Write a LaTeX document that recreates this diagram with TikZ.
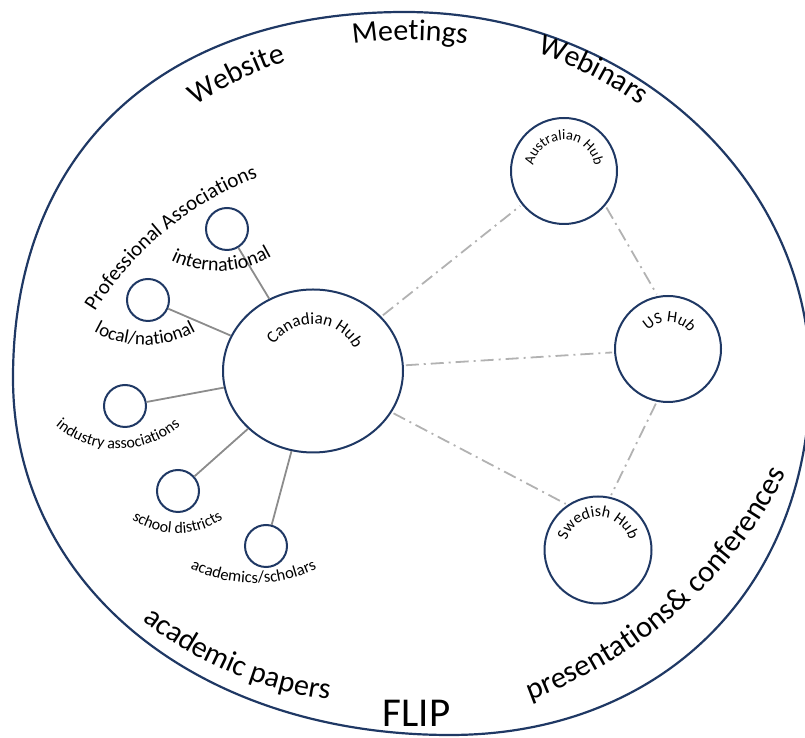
\documentclass[tikz,border=0pt]{standalone}
\usepackage{fontspec}
\setmainfont{Carlito}
\usetikzlibrary{shapes.geometric,decorations.text}
\definecolor{navy}{RGB}{31,56,100}
\definecolor{linkgray}{RGB}{140,140,140}
\definecolor{remotegray}{RGB}{178,178,178}
\begin{document}
\begin{tikzpicture}[
            x=1pt, y=1pt,
            hub/.style={circle, draw=navy, line width=2pt, inner sep=0pt, minimum size=106pt},
            bighub/.style={ellipse, draw=navy, line width=2pt, inner sep=0pt, minimum width=180pt, minimum height=163pt},
            group/.style={circle, draw=navy, line width=2pt, inner sep=0pt, minimum size=42pt},
            link/.style={draw=linkgray, line width=1.8pt},
            remote/.style={draw=remotegray, line width=1.8pt, dash pattern=on 13pt off 5pt on 2pt off 5pt, shorten >=2pt, shorten <=2pt},
            arctext/.style 2 args={decorate, decoration={text along path, text align=center, text={|\fontsize{#1}{#1}\selectfont|#2}}}
            ]
            \useasboundingbox (0,0) rectangle (805,738);
            \draw[navy, line width=2.2pt] (13,360)
              .. controls (13,587) and (162,726) .. (405,726)
              .. controls (628,726) and (810,562) .. (810,361)
              .. controls (810,150) and (662,3) .. (450,3)
              .. controls (197,3) and (13,153) .. (13,360) -- cycle;
            % hubs
            \node[bighub] (can) at (313,367) {};
            \node[hub] (aus) at (564,567) {};
            \node[hub] (us) at (668,389) {};
            \node[hub, minimum size=107pt] (swe) at (598,188) {};
            % partner groups
            \node[group] (intl) at (227,509) {};
            \node[group] (loc) at (148,438) {};
            \node[group] (ind) at (125,332) {};
            \node[group] (sch) at (178,247) {};
            \node[group] (aca) at (266,192) {};
            \draw[link] (intl) -- (can);
            \draw[link] (loc) -- (can);
            \draw[link] (ind) -- (can);
            \draw[link] (sch) -- (can);
            \draw[link] (aca) -- (can);
            \draw[remote] (can) -- (aus);
            \draw[remote] (can) -- (us);
            \draw[remote] (can) -- (swe.124);
            \draw[remote] (aus.-40) -- (us.101);
            \draw[remote] (us.-102) -- (swe.77);
            % labels on the rim
            \coordinate (rim) at (410,308);
            \path[arctext={30pt}{Website}] ([shift={(130:389pt)}]rim) arc[start angle=130, end angle=102, radius=389pt];
            \path[arctext={30pt}{Meetings}] ([shift={(105:390pt)}]rim) arc[start angle=105, end angle=75, radius=390pt];
            \path[arctext={30pt}{Webinars}] ([shift={(78:398pt)}]rim) arc[start angle=78, end angle=48, radius=398pt];
            \coordinate (papers) at (380,418);
            \path[arctext={30pt}{academic papers}] ([shift={(214:383pt)}]papers) arc[start angle=214, end angle=280, radius=383pt];
            \coordinate (talks) at (371,476);
            \path[arctext={30.5pt}{presentations{\&} conferences}] ([shift={(280:466pt)}]talks) arc[start angle=280, end angle=343, radius=466pt];
            \node[font=\fontsize{41}{41}\selectfont] (flip) at (416.5,24.5) {FLIP};
            % group labels
            \coordinate (prof) at (378,249);
            \path[arctext={21pt}{Professional Associations}] ([shift={(157:334pt)}]prof) arc[start angle=157, end angle=102, radius=334pt];
            \path[arctext={20pt}{international}] ([shift={(232:108pt)}]218,575) arc[start angle=232, end angle=312, radius=108pt];
            \path[arctext={19pt}{local/national}] ([shift={(228:106pt)}]145,499) arc[start angle=228, end angle=312, radius=106pt];
            \path[arctext={16pt}{industry associations}] ([shift={(218:96pt)}]118,385) arc[start angle=218, end angle=322, radius=96pt];
            \path[arctext={16pt}{school districts}] ([shift={(218:79pt)}]177.5,283.6) arc[start angle=218, end angle=322, radius=79pt];
            \path[arctext={16.5pt}{academics/scholars}] ([shift={(228:146pt)}]253.5,301) arc[start angle=228, end angle=312, radius=146pt];
            % hub labels
            \path[arctext={17pt}{Canadian Hub}] ([shift={(170:47pt)}]can.center) arc[start angle=170, end angle=4, radius=47pt];
            \path[arctext={14.5pt}{Australian Hub}] ([shift={(180:31pt)}]aus.center) arc[start angle=180, end angle=0, radius=31pt];
            \path[arctext={16pt}{US Hub}] ([shift={(160:27pt)}]us.center) arc[start angle=160, end angle=14, radius=27pt];
            \path[arctext={16pt}{Swedish Hub}] ([shift={(175:33pt)}]swe.center) arc[start angle=175, end angle=5, radius=33pt];
\end{tikzpicture}
\end{document}
